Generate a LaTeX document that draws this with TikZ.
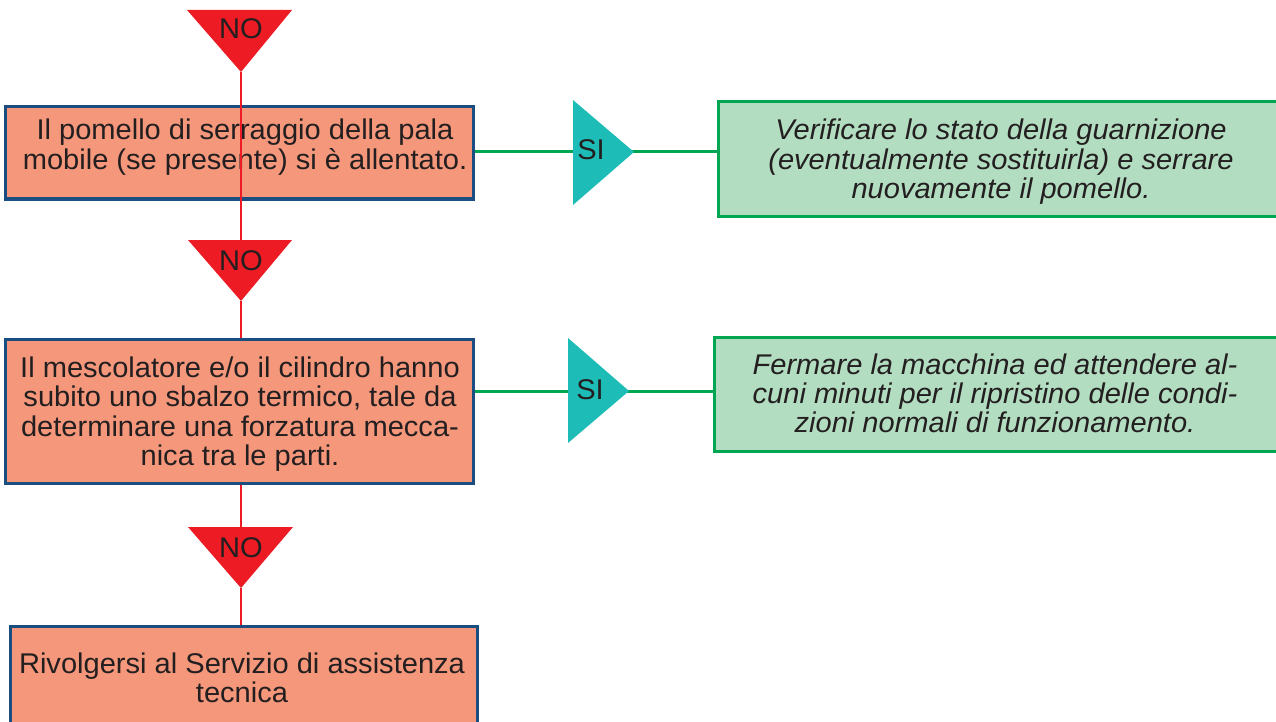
\documentclass[tikz,border=0pt]{standalone}
\usepackage{fontspec}
\setmainfont{Liberation Sans}
\newfontfamily\dfont[FakeStretch=1.02]{Liberation Sans}
\definecolor{nored}{HTML}{ED1C24}
\definecolor{siteal}{HTML}{1DBCB7}
\definecolor{salmon}{HTML}{F5977A}
\definecolor{navy}{HTML}{1A4D80}
\definecolor{okgreen}{HTML}{00A651}
\definecolor{okfill}{HTML}{B3DDC1}
\definecolor{ink}{HTML}{231F20}
\begin{document}
\begin{tikzpicture}[x=1pt,y=-1pt,
  probbox/.style={draw=navy,line width=3pt,fill=salmon,inner sep=0pt},
  fixbox/.style={draw=okgreen,line width=3pt,fill=okfill,inner sep=0pt},
  txt/.style={anchor=base,inner sep=0pt,text=ink,font=\dfont\fontsize{28.5}{28}\selectfont},
  lbl/.style={inner sep=0pt,text=ink,font=\dfont\fontsize{28.5}{28}\selectfont},
  redline/.style={draw=nored,line width=2pt},
  greenline/.style={draw=okgreen,line width=3pt}]
\useasboundingbox (0,0) rectangle (1276,722);
% boxes
\node[probbox,minimum width=468pt,minimum height=92pt] (b1) at (239,153) {};
\node[probbox,minimum width=468pt,minimum height=144pt] (b2) at (239,411) {};
\node[probbox,minimum width=467pt,minimum height=114pt] (b3) at (243.5,683) {};
\node[fixbox,minimum width=572pt,minimum height=114pt] (g1) at (1004,159) {};
\node[fixbox,minimum width=576pt,minimum height=114pt] (g2) at (1002,394) {};
% texts
\node[txt] (t1) at (245,140) {\begin{tabular}[t]{@{}c@{}}Il pomello di serraggio della pala\\mobile (se presente) si è allentato.\end{tabular}};
\node[txt,font=\dfont\fontsize{28.5}{29.5}\selectfont] (t2) at (240,377) {\begin{tabular}[t]{@{}c@{}}Il mescolatore e/o il cilindro hanno\\subito uno sbalzo termico, tale da\\determinare una forzatura mecca-\\nica tra le parti.\end{tabular}};
\node[txt] (t3) at (242,673) {\begin{tabular}[t]{@{}c@{}}Rivolgersi al Servizio di assistenza\\tecnica\end{tabular}};
\node[txt,font=\dfont\itshape\fontsize{28.5}{29}\selectfont] (tg1) at (1001,140) {\begin{tabular}[t]{@{}c@{}}Verificare lo stato della guarnizione\\(eventualmente sostituirla) e serrare\\nuovamente il pomello.\end{tabular}};
\node[txt,font=\dfont\itshape\fontsize{28.5}{29}\selectfont] (tg2) at (995,374) {\begin{tabular}[t]{@{}c@{}}Fermare la macchina ed attendere al-\\cuni minuti per il ripristino delle condi-\\zioni normali di funzionamento.\end{tabular}};
% triangle coordinates
\coordinate (n1tip) at (241,72);
\coordinate (n2top) at (241,240);
\coordinate (n2tip) at (241,301);
\coordinate (n3top) at (241,527);
\coordinate (n3tip) at (241,588);
\coordinate (s1tip) at (634,152);
\coordinate (s2tip) at (629,391);
% connectors
\draw[redline] (n1tip) -- (n2top);
\draw[redline] (n2tip) -- (n2tip |- b2.north);
\draw[redline] (n3top |- b2.south) -- (n3top);
\draw[redline] (n3tip) -- (n3tip |- b3.north);
\draw[greenline] (b1.east |- s1tip) -- (g1.west |- s1tip);
\draw[greenline] (b2.east |- s2tip) -- (g2.west |- s2tip);
% triangles
\fill[nored] (187,10) -- (292,10) -- (n1tip) -- cycle;
\fill[nored] (188,240) -- (292,240) -- (n2tip) -- cycle;
\fill[nored] (188,527) -- (293,527) -- (n3tip) -- cycle;
\fill[siteal] (573,100) -- (573,205) -- (s1tip) -- cycle;
\fill[siteal] (568,338) -- (568,443) -- (s2tip) -- cycle;
% labels
\node[lbl] (no1) at (241,29) {NO};
\node[lbl] (no2) at (241,261) {NO};
\node[lbl] (no3) at (241,548) {NO};
\node[lbl] (si1) at (591,150) {SI};
\node[lbl] (si2) at (590,390) {SI};
\end{tikzpicture}
\end{document}
